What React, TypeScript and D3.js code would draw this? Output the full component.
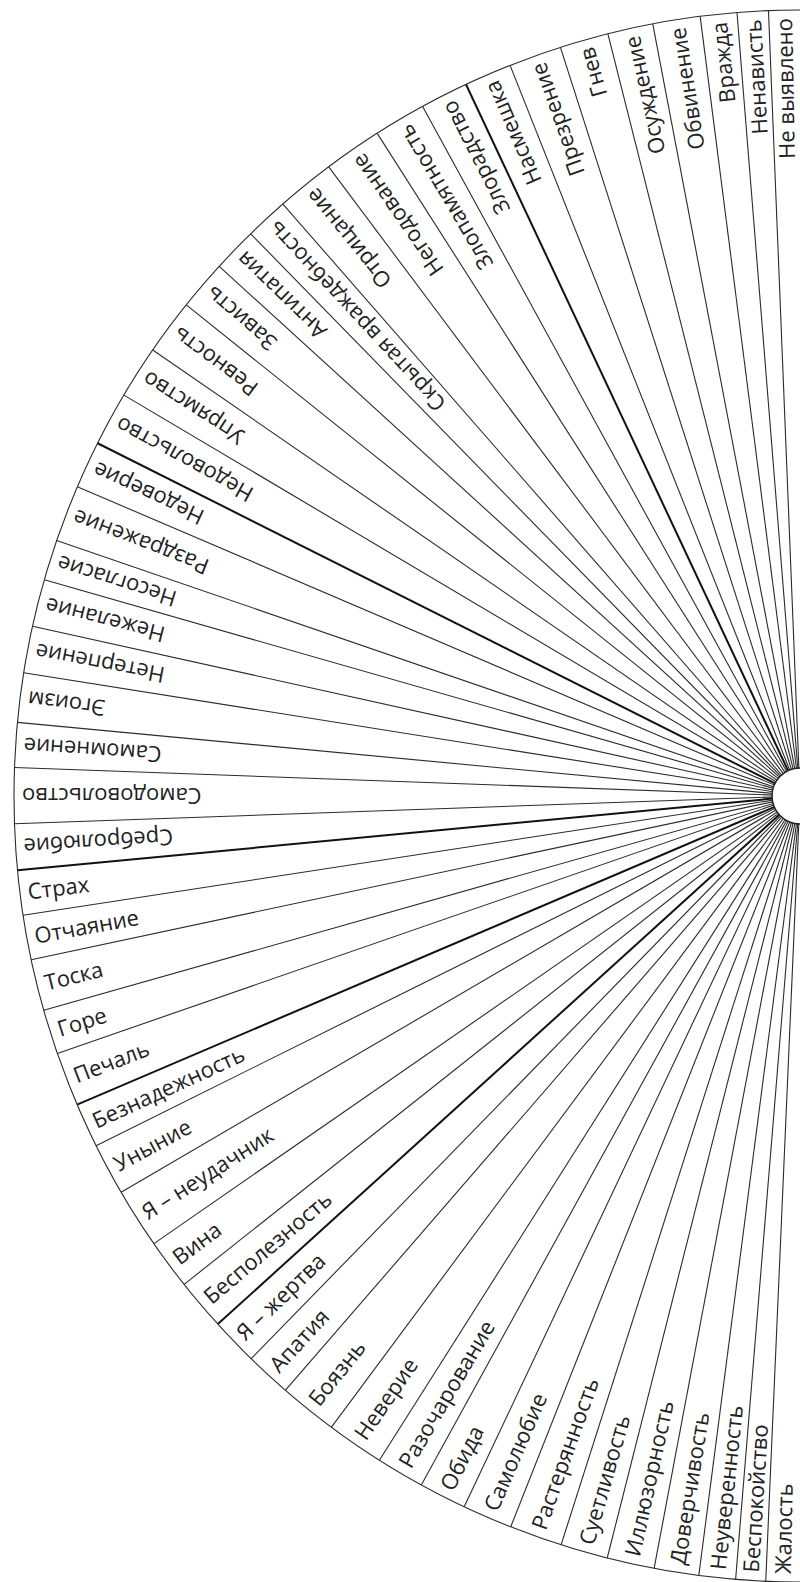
import { pie, arc, pointRadial } from "d3"

// labels from the top (12 o'clock) round the left side to the bottom
const labels = [
  "Не выявлено", "Ненависть", "Вражда", "Обвинение", "Осуждение", "Гнев", "Презрение", "Насмешка",
  "Злорадство", "Злопамятность", "Негодование", "Отрицание", "Скрытая враждебность", "Антипатия",
  "Зависть", "Ревность", "Упрямство", "Недовольство",
  "Недоверие", "Раздражение", "Несогласие", "Нежелание", "Нетерпение", "Эгоизм", "Самомнение",
  "Самодовольство", "Сребролюбие",
  "Страх", "Отчаяние", "Тоска", "Горе", "Печаль",
  "Безнадежность", "Уныние", "Я – неудачник", "Вина", "Бесполезность",
  "Я – жертва", "Апатия", "Боязнь", "Неверие", "Разочарование", "Обида", "Самолюбие",
  "Растерянность", "Суетливость", "Иллюзорность", "Доверчивость", "Неуверенность",
  "Беспокойство", "Жалость",
]

// width of each sector in degrees
const spans = [
  2.3, 2.3, 2.7, 3.5, 3.35, 3.6, 3.9, 3.5,
  3.55, 3.85, 4.3, 4.3, 3.2, 3.3, 3.7, 4.1, 3.9, 4.0,
  3.5, 4.2, 3.0, 3.5, 3.45, 3.65, 3.3, 4.1, 3.4,
  3.3, 3.3, 3.8, 3.3, 4.0,
  3.3, 3.85, 4.45, 3.7, 3.8,
  3.5, 3.4, 4.3, 4.25, 3.55, 3.5, 3.7, 3.9, 3.5, 3.5, 3.3, 2.7, 2.2, 2.5,
]

// how many labels in each group (groups split by heavier lines)
const groupSizes = [8, 10, 9, 5, 5, 14]
// the first groups are lettered outwards, the rest inwards
const outwardGroups = 3

export default function App() {
  const width = 800
  const height = 1582
  const cx = 800
  const cy = 796
  const radius = 786
  const hubRadius = 28
  const pad = 8

  const data = labels.map((name, i) => ({ name, span: spans[i] }))

  const pieLayout = pie<any>()
    .value((d) => d.span)
    .sort(null)
    .startAngle(0)
    .endAngle(-Math.PI)

  const arcs = pieLayout(data)

  const rim = arc<any>()
    .innerRadius(radius)
    .outerRadius(radius)
    .startAngle(0)
    .endAngle(-Math.PI)

  // index of the group each label belongs to, and where groups end
  const groupOf: number[] = []
  const groupEnds = new Set<number>()
  let count = 0
  groupSizes.forEach((n, g) => {
    for (let k = 0; k < n; k++) groupOf.push(g)
    count += n
    groupEnds.add(count - 1)
  })

  return (
    <svg
      width={width}
      height={height}
      style={{ position: "absolute", left: 0, top: 0, display: "block", background: "#fff" }}
    >
      <g transform={`translate(${cx},${cy})`}>
        <path d={rim(null) || undefined} fill="none" stroke="#2b2b2b" strokeWidth={1.1} />

        {arcs.slice(0, -1).map((d, i) => {
          const [x, y] = pointRadial(d.endAngle, radius)
          const heavy = groupEnds.has(i)
          return (
            <line
              key={"l" + i}
              x1={0}
              y1={0}
              x2={x}
              y2={y}
              stroke={heavy ? "#111" : "#2b2b2b"}
              strokeWidth={heavy ? 2 : 1.1}
            />
          )
        })}

        {arcs.map((d, i) => {
          const mid = (d.startAngle + d.endAngle) / 2
          const [x, y] = pointRadial(mid, radius - pad)
          const deg = (mid * 180) / Math.PI
          const outward = groupOf[i] < outwardGroups
          const rot = outward ? deg - 90 : deg + 90
          return (
            <text
              key={"t" + i}
              transform={`translate(${x},${y}) rotate(${rot})`}
              textAnchor={outward ? "end" : "start"}
              dy="0.35em"
              fontFamily="'Open Sans', 'Noto Sans', sans-serif"
              fontSize={22}
              fill="#222"
            >
              {d.data.name}
            </text>
          )
        })}

        <circle r={hubRadius} fill="#fff" stroke="#222" strokeWidth={1.5} />
      </g>
    </svg>
  )
}
